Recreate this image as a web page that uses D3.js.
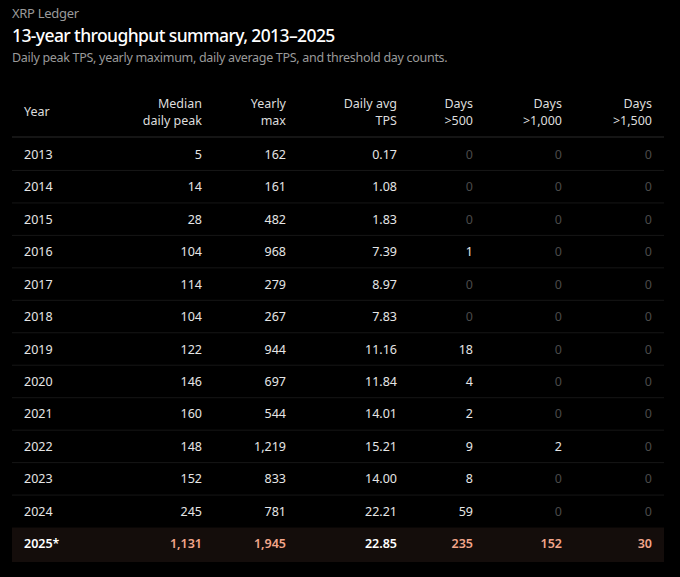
<!DOCTYPE html>
<html><head><meta charset="utf-8">
<script src="https://cdn.jsdelivr.net/npm/d3@7"></script>
<style>
body{margin:0;background:#000;font-family:"Noto Sans",sans-serif;}
</style></head><body>
<svg id="chart" width="680" height="577"></svg>
<script>
const years = ["2013","2014","2015","2016","2017","2018","2019","2020","2021","2022","2023","2024","2025*"];
const medianPeak = [5,14,28,104,114,104,122,146,160,148,152,245,1131];
const yearlyMax = [162,161,482,968,279,267,944,697,544,1219,833,781,1945];
const dailyAvg = [0.17,1.08,1.83,7.39,8.97,7.83,11.16,11.84,14.01,15.21,14.00,22.21,22.85];
const days500 = [0,0,0,1,0,0,18,4,2,9,8,59,235];
const days1000 = [0,0,0,0,0,0,0,0,0,2,0,0,152];
const days1500 = [0,0,0,0,0,0,0,0,0,0,0,0,30];
const headers = [["Year"],["Median","daily peak"],["Yearly","max"],["Daily avg","TPS"],["Days",">500"],["Days",">1,000"],["Days",">1,500"]];

const svg = d3.select("#chart");
svg.append("text").attr("x",12).attr("y",18).attr("fill","#9a9a9a").attr("font-size",13).attr("letter-spacing",-0.3).text("XRP Ledger");
svg.append("text").attr("x",12).attr("y",42).attr("fill","#fff").attr("font-size",17.5).attr("letter-spacing",-0.6).attr("font-weight",500).text("13-year throughput summary, 2013–2025");
svg.append("text").attr("x",12).attr("y",62).attr("fill","#9a9a9a").attr("font-size",12.5).attr("letter-spacing",-0.3).text("Daily peak TPS, yearly maximum, daily average TPS, and threshold day counts.");

const colX = [24,202,286,397,473,562,652];
const fmt = d3.format(",");
const cols = [years, medianPeak.map(fmt), yearlyMax.map(fmt), dailyAvg.map(d3.format(".2f")), days500.map(fmt), days1000.map(fmt), days1500.map(fmt)];
const raw = [null, medianPeak, yearlyMax, dailyAvg, days500, days1000, days1500];

headers.forEach((h,i)=>{
  const t = svg.append("text").attr("x",colX[i]).attr("fill","#ddd").attr("font-size",12.5)
    .attr("text-anchor", i===0?"start":"end");
  if(h.length===1) t.attr("y",116).text(h[0]);
  else { t.append("tspan").attr("x",colX[i]).attr("y",108).text(h[0]); t.append("tspan").attr("x",colX[i]).attr("y",125).text(h[1]); }
});
svg.append("line").attr("x1",12).attr("x2",664).attr("y1",137).attr("y2",137).attr("stroke","#2a2a2a");

const y = d3.scaleBand().domain(years).range([138,560]).paddingInner(0);
const last = years.length-1;
svg.append("rect").attr("x",12).attr("width",652).attr("y",y(years[last])).attr("height",y.bandwidth()+2).attr("fill","#140d0b");

years.forEach((yr,r)=>{
  if(r>0 && r<last) svg.append("line").attr("x1",12).attr("x2",664).attr("y1",y(yr)).attr("y2",y(yr)).attr("stroke","#161616");
  const cy = y(yr)+y.bandwidth()/2+4.5;
  cols.forEach((c,i)=>{
    let fill = "#e6e6e6", weight = 400;
    if(i>0 && raw[i][r]===0) fill = "#4a4a4a";
    if(r===last){ weight = 600; fill = (i===0||i===3) ? "#fff" : "#f2a58a"; }
    svg.append("text").attr("x",colX[i]).attr("y",cy).attr("fill",fill).attr("font-size",12.5)
      .attr("font-weight",weight).attr("text-anchor",i===0?"start":"end").text(c[r]);
  });
});
</script></body></html>
